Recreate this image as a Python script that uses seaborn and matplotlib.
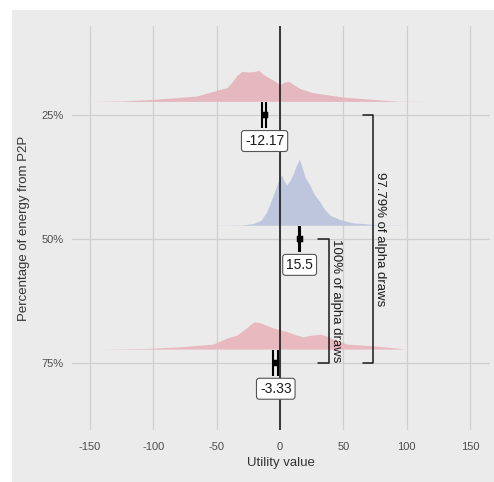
import numpy as np
import matplotlib
matplotlib.use("Agg")
import matplotlib.pyplot as plt
from matplotlib.patches import Rectangle
import seaborn as sns

# Categories and point summaries
categories = ["25%", "50%", "75%"]
medians = [-12.17, 15.5, -3.33]
lower = [-14.0, 15.0, -5.5]
upper = [-10.7, 16.0, -1.6]
label_text = ["-12.17", "15.5", "-3.33"]

# Density profiles (x = utility value, d = relative density)
dens_x_25 = [-148, -124, -100, -82, -66, -50, -42, -38, -34, -30, -24, -20, -17, -12, -5,
             0, 4, 7, 11, 16, 26, 37, 50, 66, 92, 106, 125]
dens_y_25 = [0.0, 0.5, 2.0, 3.7, 5.3, 11.0, 13.7, 19.0, 26.0, 30.0, 29.3, 30.0, 31.0, 26.0,
             21.0, 16.7, 19.5, 20.0, 16.5, 12.7, 8.7, 6.7, 4.3, 2.7, 0.3, 0.1, 0.0]
dens_x_50 = [-54, -30, -21, -15, -10.5, -5.3, -2, 0, 1.3, 3, 5.3, 8, 10.5, 13, 15.3, 17.5,
             19.7, 23.7, 27, 31.6, 35, 39.5, 47.4, 58, 66, 76, 90, 100]
dens_y_50 = [0.0, 0.3, 1.7, 5.0, 13.3, 30.0, 42.0, 48.3, 50.0, 45.0, 40.0, 45.0, 51.7, 60.0,
             66.0, 58.0, 48.3, 40.0, 31.0, 23.3, 16.0, 10.0, 5.7, 2.3, 1.7, 0.5, 0.2, 0.0]
dens_x_75 = [-140, -105, -79, -53, -42, -34, -26, -22, -20, -16, -13, -5, 5, 12, 18, 25,
             32, 37, 42, 53, 74, 95, 98]
dens_y_75 = [0.0, 0.7, 2.3, 5.0, 11.0, 14.0, 21.7, 26.0, 27.3, 26.5, 25.0, 21.0, 17.7, 14.5,
             12.3, 14.0, 15.0, 13.0, 10.0, 5.0, 3.3, 0.7, 0.0]
dens_colors = ["#E5B7BF", "#BDC6DC", "#E9B9C0"]

# Brackets: (from category, to category, label)
brackets = [(1, 2, "100% of alpha draws"), (0, 2, "97.79% of alpha draws")]
bracket_x = [(30, 38.7), (65.6, 73.5)]

x_ticks = [-150, -100, -50, 0, 50, 100, 150]

sns.set_theme(style="whitegrid", rc={
    "axes.facecolor": "#EBEBEB",
    "grid.color": "#CFCFCF",
    "grid.linewidth": 0.9,
})
plt.rcParams["font.family"] = ["Liberation Sans", "DejaVu Sans"]

fig = plt.figure(figsize=(4.94, 4.82), dpi=100, facecolor="white")
fig.patches.append(Rectangle((12 / 494, 0), 1, 1 - 10 / 482, transform=fig.transFigure,
                             facecolor="#EBEBEB", edgecolor="none", zorder=-10))
ax = fig.add_axes([72 / 494, 1 - 430 / 482, (490 - 72) / 494, (430 - 26) / 482])
ax.set_zorder(1)

# Density ridges, slightly above each category line
scale = 1 / 123.85
offset = 0.11
profiles = [(dens_x_25, dens_y_25), (dens_x_50, dens_y_50), (dens_x_75, dens_y_75)]
for i, (dx, dy) in enumerate(profiles):
    base = i - offset
    ax.fill_between(dx, base, base - np.array(dy) * scale, color=dens_colors[i],
                    linewidth=0, zorder=2)

# Zero reference line
ax.axvline(0, color="#1A1A1A", linewidth=1.2, zorder=3)

# Point intervals
ypos = np.arange(len(categories))
xerr = [np.array(medians) - np.array(lower), np.array(upper) - np.array(medians)]
ax.errorbar(medians, ypos, xerr=xerr, fmt="none", ecolor="black", elinewidth=1.0,
            capsize=9.2, capthick=1.5, zorder=4)
sns.scatterplot(x=medians, y=ypos, marker="s", s=18, color="black", edgecolor="black",
                ax=ax, zorder=5)

# Value labels
for i, txt in enumerate(label_text):
    ax.text(medians[i], i + 0.21, txt, ha="center", va="center", fontsize=10,
            color="#1A1A1A", zorder=6,
            bbox=dict(boxstyle="round,pad=0.25,rounding_size=0.2", facecolor="white",
                      edgecolor="#555555", linewidth=0.8))

# Brackets
for (y0, y1, txt), (xa, xb) in zip(brackets, bracket_x):
    ax.plot([xa, xb, xb, xa], [y0, y0, y1, y1], color="#1A1A1A", linewidth=1.1, zorder=4)
    ax.text(xb + 5.5, (y0 + y1) / 2, txt, rotation=-90, ha="center", va="center",
            fontsize=9.5, color="#1A1A1A", zorder=6)

ax.set_xlim(-164.2, 165.8)
ax.set_ylim(2.543, -0.7186)
ax.set_xticks(x_ticks)
ax.set_xticklabels([str(v) for v in x_ticks])
ax.set_yticks(ypos)
ax.set_yticklabels(categories)
ax.tick_params(axis="both", labelsize=8, labelcolor="#4D4D4D", length=0)
ax.tick_params(axis="x", pad=9)
ax.tick_params(axis="y", pad=6)
ax.set_xlabel("Utility value", fontsize=9.5, color="#333333", labelpad=3)
ax.set_ylabel("Percentage of energy from P2P", fontsize=9.5, color="#333333", labelpad=8)
ax.grid(True, axis="both")
for s in ax.spines.values():
    s.set_visible(False)

fig.savefig("out.png", dpi=100)
